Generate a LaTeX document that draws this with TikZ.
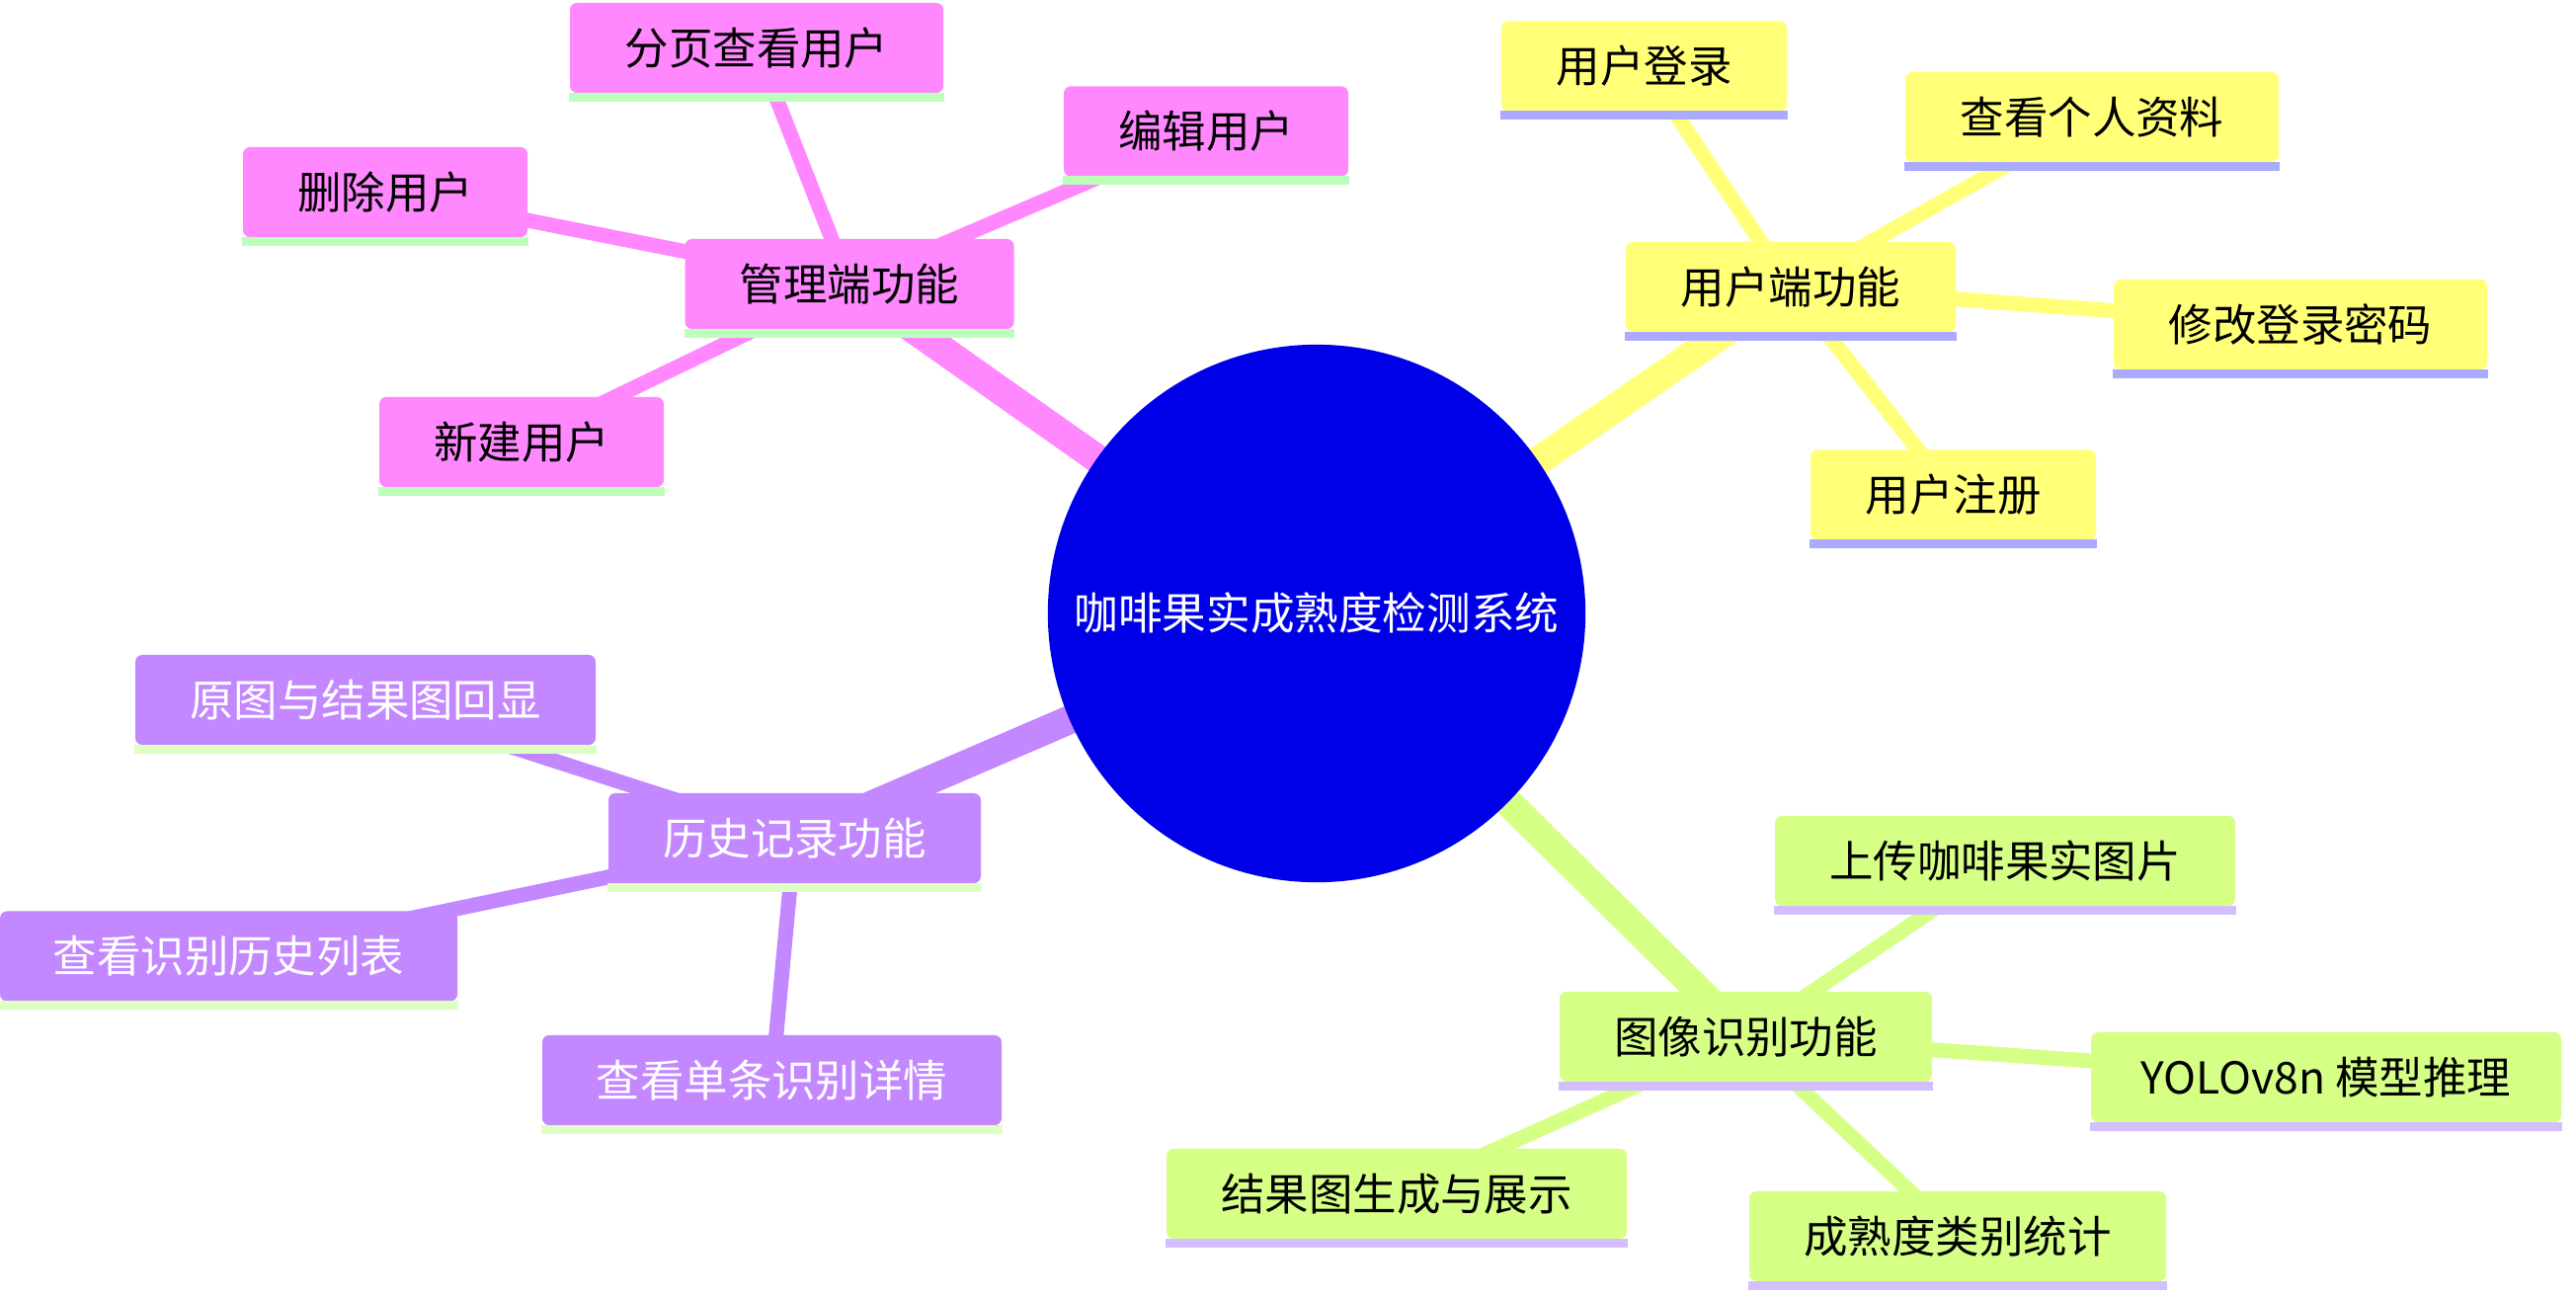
\documentclass[tikz,border=0pt]{standalone}
\usepackage{fontspec}
\setmainfont{Noto Sans CJK SC}
\pgfdeclarelayer{background}
\pgfsetlayers{background,main}
\definecolor{pinkc}{HTML}{FF88FF}
\definecolor{pinkul}{HTML}{BBFFBB}
\definecolor{yelc}{HTML}{FFFF78}
\definecolor{yelul}{HTML}{AAAAFF}
\definecolor{purc}{HTML}{C387FF}
\definecolor{purul}{HTML}{DDFFC3}
\definecolor{grnc}{HTML}{D6FF86}
\definecolor{grnul}{HTML}{D3BEFF}
\definecolor{rootc}{HTML}{0000E8}
\tikzset{
  box/.style={rounded corners=0.07cm, minimum height=0.91cm, inner xsep=0pt, inner ysep=0pt,
    font=\fontsize{12.65pt}{14pt}\selectfont},
  pinkbox/.style={box, fill=pinkc, text=black},
  yelbox/.style={box, fill=yelc, text=black},
  purbox/.style={box, fill=purc, text=white},
  grnbox/.style={box, fill=grnc, text=black},
  rootedge/.style={line width=0.29cm},
  subedge/.style={line width=0.15cm},
}
\newcommand\mmbox[6]{%
  \node[#2box, minimum width=#5*0.01cm] (#1) at (#3,#4) {#6};
  \fill[#2ul] ([yshift=0.3pt]#1.south west) rectangle ([yshift=-0.08cm]#1.south east);
}
\begin{document}
\begin{tikzpicture}[x=0.01cm,y=-0.01cm]
\useasboundingbox (0,0) rectangle (2608,1314);
\node[circle, fill=rootc, minimum size=5.44cm, inner sep=0pt, text=white,
  font=\fontsize{12.7pt}{14pt}\selectfont] (root) at (1333,621) {咖啡果实成熟度检测系统};
% pink
\mmbox{pm}{pink}{860}{287.5}{333}{管理端功能}
\mmbox{p1}{pink}{766}{48.5}{378}{分页查看用户}
\mmbox{p2}{pink}{1221}{133}{288}{编辑用户}
\mmbox{p3}{pink}{390}{194.5}{288}{删除用户}
\mmbox{p4}{pink}{528}{447.5}{288}{新建用户}
% yellow
\mmbox{ym}{yel}{1813}{290.5}{334}{用户端功能}
\mmbox{y1}{yel}{1664.5}{67}{289}{用户登录}
\mmbox{y2}{yel}{2118}{118.5}{378}{查看个人资料}
\mmbox{y3}{yel}{2329}{328.5}{378}{修改登录密码}
\mmbox{y4}{yel}{1977.5}{501}{289}{用户注册}
% purple
\mmbox{hm}{pur}{804.5}{848.5}{377}{历史记录功能}
\mmbox{h1}{pur}{370}{708.5}{466}{原图与结果图回显}
\mmbox{h2}{pur}{231.5}{968}{463}{查看识别历史列表}
\mmbox{h3}{pur}{781.5}{1093.5}{465}{查看单条识别详情}
% green
\mmbox{gm}{grn}{1767.5}{1049.5}{377}{图像识别功能}
\mmbox{g1}{grn}{2030}{871.5}{466}{上传咖啡果实图片}
\mmbox{g2}{grn}{2355}{1090.5}{476}{YOLOv8n 模型推理}
\mmbox{g3}{grn}{1414}{1208.5}{466}{结果图生成与展示}
\mmbox{g4}{grn}{1982}{1251.5}{422}{成熟度类别统计}
\begin{pgfonlayer}{background}
\draw[rootedge, pinkc] (root.center) -- (pm.center);
\draw[rootedge, yelc] (root.center) -- (ym.center);
\draw[rootedge, purc] (root.center) -- (hm.center);
\draw[rootedge, grnc] (root.center) -- (gm.center);
\foreach \c in {p1,p2,p3,p4} \draw[subedge, pinkc] (pm.center) -- (\c.center);
\foreach \c in {y1,y2,y3,y4} \draw[subedge, yelc] (ym.center) -- (\c.center);
\foreach \c in {h1,h2,h3} \draw[subedge, purc] (hm.center) -- (\c.center);
\foreach \c in {g1,g2,g3,g4} \draw[subedge, grnc] (gm.center) -- (\c.center);
\end{pgfonlayer}
\end{tikzpicture}
\end{document}
